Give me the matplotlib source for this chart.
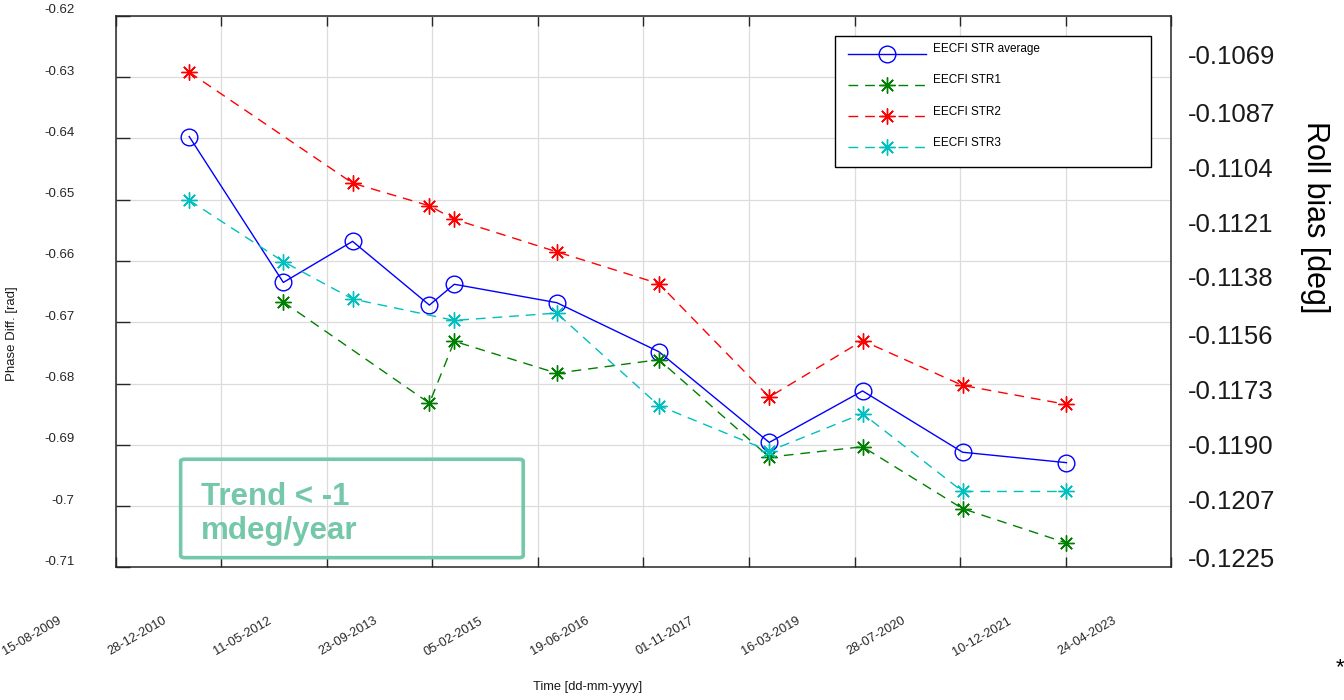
import numpy as np
import pandas as pd
import matplotlib
matplotlib.use("Agg")
import matplotlib.pyplot as plt
import matplotlib.dates as mdates
from matplotlib.transforms import ScaledTranslation
from matplotlib.patches import FancyBboxPatch

plt.rcParams['font.family'] = ['Liberation Sans', 'DejaVu Sans']

# Acquisition dates and phase differences [rad]
dates_avg = ['2010-07-29', '2011-10-18', '2012-09-10', '2013-09-09', '2014-01-05',
             '2015-05-05', '2016-08-31', '2018-02-05', '2019-04-23', '2020-08-09',
             '2021-12-14']
str_avg = [-0.6397, -0.6635, -0.6568, -0.6672, -0.6638, -0.6668, -0.6748,
           -0.6896, -0.6812, -0.6912, -0.6929]

dates_str1 = ['2011-10-18', '2013-09-09', '2014-01-05', '2015-05-05', '2016-08-31',
              '2018-02-05', '2019-04-23', '2020-08-09', '2021-12-14']
str1 = [-0.6667, -0.6832, -0.6731, -0.6783, -0.6761, -0.6920, -0.6903, -0.7004, -0.7060]

dates_str2 = ['2010-07-29', '2012-09-10', '2013-09-09', '2014-01-05', '2015-05-05',
              '2016-08-31', '2018-02-05', '2019-04-23', '2020-08-09', '2021-12-14']
str2 = [-0.6292, -0.6473, -0.6510, -0.6532, -0.6585, -0.6637, -0.6822, -0.6730,
        -0.6803, -0.6834]

dates_str3 = ['2010-07-29', '2011-10-18', '2012-09-10', '2014-01-05', '2015-05-05',
              '2016-08-31', '2018-02-05', '2019-04-23', '2020-08-09', '2021-12-14']
str3 = [-0.6501, -0.6601, -0.6662, -0.6697, -0.6685, -0.6836, -0.6910, -0.6849,
        -0.6976, -0.6976]

labels = ['EECFI STR average', 'EECFI STR1', 'EECFI STR2', 'EECFI STR3']

phase_ticks = [-0.62, -0.63, -0.64, -0.65, -0.66, -0.67, -0.68, -0.69, -0.70, -0.71]
roll_ticks = [-0.1069, -0.1087, -0.1104, -0.1121, -0.1138, -0.1156, -0.1173,
              -0.1190, -0.1207, -0.1225]
roll_tick_labels = ['-0.1069', '-0.1087', '-0.1104', '-0.1121', '-0.1138', '-0.1156',
                    '-0.1173', '-0.1190', '-0.1207', '-0.1225']

time_start = pd.Timestamp('2009-08-15')
time_step_days = 500
n_time_ticks = 11

fig = plt.figure(figsize=(13.44, 7.0), dpi=100)
ax = fig.add_axes([0.0861, 0.1893, 0.7853, 0.7882])

asterisk = (8, 2, 0)
dash = (0, (7, 5))
ax.plot(pd.to_datetime(dates_avg), str_avg, color='#0000ff', lw=1.0, marker='o',
        ms=12, mfc='none', mew=1.0, label=labels[0])
ax.plot(pd.to_datetime(dates_str1), str1, color='#008000', lw=1.0, ls=dash,
        marker=asterisk, ms=11.5, mew=1.0, label=labels[1])
ax.plot(pd.to_datetime(dates_str2), str2, color='#ff0000', lw=1.0, ls=dash,
        marker=asterisk, ms=11.5, mew=1.0, label=labels[2])
ax.plot(pd.to_datetime(dates_str3), str3, color='#00bfbf', lw=1.0, ls=dash,
        marker=asterisk, ms=11.5, mew=1.0, label=labels[3])

# x axis: ticks every 500 days
time_ticks = [time_start + pd.Timedelta(days=time_step_days * k) for k in range(n_time_ticks)]
ax.set_xlim(time_ticks[0], time_ticks[-1])
ax.set_xticks(time_ticks)
ax.xaxis.set_major_formatter(mdates.DateFormatter('%d-%m-%Y'))
ax.tick_params(axis='x', direction='in', length=7, width=1.0, top=True, pad=0,
               labelsize=9.2, colors='#262626')
xshift = ScaledTranslation(-0.84, -0.69, fig.dpi_scale_trans)
for lab in ax.get_xticklabels():
    lab.set_rotation(30)
    lab.set_rotation_mode('anchor')
    lab.set_ha('center')
    lab.set_va('center')
    lab.set_transform(lab.get_transform() + xshift)

# left y axis: phase difference
ax.set_ylim(-0.71, -0.62)
ax.set_yticks(phase_ticks)
ax.set_yticklabels([f'{v:g}' for v in phase_ticks])
ax.tick_params(axis='y', direction='in', length=10, width=1.0, pad=29.5,
               labelsize=9.5, colors='#262626')
yshift = ScaledTranslation(0, 0.07, fig.dpi_scale_trans)
for lab in ax.get_yticklabels():
    lab.set_transform(lab.get_transform() + yshift)

ax.grid(True, color='#dcdcdc', lw=0.9)
ax.set_axisbelow(True)
for sp in ax.spines.values():
    sp.set_color('#262626')
    sp.set_linewidth(1.1)

# right y axis: roll bias
ax2 = ax.twinx()
ax2.set_ylim(-0.12282, -0.10569)
ax2.set_yticks(roll_ticks)
ax2.set_yticklabels(roll_tick_labels)
ax2.tick_params(axis='y', length=0, pad=12, labelsize=18.5, colors='#1a1a1a')
for sp in ax2.spines.values():
    sp.set_visible(False)

leg = ax.legend(loc='upper left', bbox_to_anchor=(0.6814, 0.7262, 0.2994, 0.2375),
                mode='expand', fontsize=8.5, frameon=True, fancybox=False,
                edgecolor='#000000', framealpha=1.0, borderpad=1.1,
                labelspacing=1.62, handlelength=6.6, handletextpad=0.6,
                borderaxespad=0)
leg.get_frame().set_linewidth(1.0)
leg.set_zorder(5)
text_lift = ScaledTranslation(0, 0.055, fig.dpi_scale_trans)
for t in leg.get_texts():
    t.set_transform(t.get_transform() + text_lift)

# annotation box
trend_color = '#74c8a9'
box = FancyBboxPatch((0.0615, 0.0178), 0.3246, 0.1784,
                     boxstyle='round,pad=0,rounding_size=0.004',
                     transform=ax.transAxes, fill=False, ec=trend_color, lw=2.6,
                     zorder=4)
ax.add_patch(box)
ax.text(0.0805, 0.097, 'Trend < -1\nmdeg/year', transform=ax.transAxes,
        ha='left', va='center', fontsize=22.5, fontweight='bold',
        color=trend_color, linespacing=1.2, zorder=4)

# axis titles
fig.text(12 / 1344, 1 - 334 / 700, 'Phase Diff. [rad]', rotation=90,
         ha='center', va='center', fontsize=9.5, color='#1a1a1a')
fig.text(588 / 1344, 1 - 687 / 700, 'Time [dd-mm-yyyy]', ha='center',
         va='center', fontsize=9.3, color='#1a1a1a')
fig.text(1315 / 1344, 1 - 217 / 700, 'Roll bias [deg]', rotation=-90,
         ha='center', va='center', fontsize=22, color='#000000')
fig.text(1336 / 1344, 1 - 668 / 700, '*', ha='left', va='center', fontsize=16,
         color='#000000')

fig.savefig('out.png', dpi=100)
